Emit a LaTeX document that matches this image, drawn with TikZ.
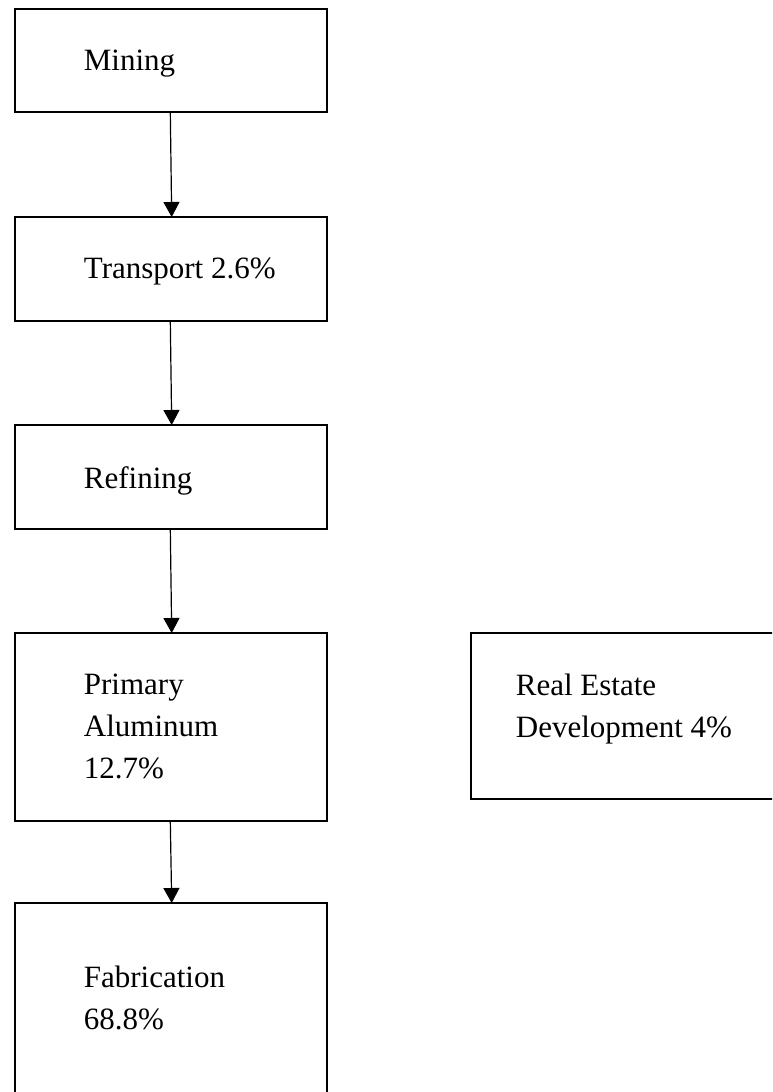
\documentclass[tikz,border=0pt]{standalone}
\usepackage{fontspec}
\setmainfont{Liberation Serif}
\usetikzlibrary{arrows.meta, positioning}

\begin{document}
\begin{tikzpicture}[
    x=1pt, y=-1pt,
    box/.style={rectangle, draw=black, line width=2pt, minimum width=312pt,
                outer sep=0pt, inner sep=0pt},
    txt/.style={anchor=north west, inner sep=0pt, align=left,
                font=\fontsize{31}{42}\selectfont},
    arrow/.style={-{Triangle[length=15pt, width=16pt]}, line width=1.2pt, black}
]
\useasboundingbox (0,0) rectangle (772,1092);
\clip (0,0) rectangle (772,1092);
% Boxes (main chain)
\node[box, minimum height=103pt] (mining) at (170.7,60.5) {};
\node[box, minimum height=104pt, below=105pt of mining] (transport) {};
\node[box, minimum height=104pt, below=104pt of transport] (refining) {};
\node[box, minimum height=188pt, below=104pt of refining] (primary) {};
\node[box, minimum height=220pt, below=82pt of primary] (fabrication) {};
% Side box
\node[box, minimum width=340pt, minimum height=166pt,
      right=144pt of primary.north east, anchor=north west] (realestate) {};
% Texts
\node[txt] (mining-t) at ([shift={(69pt,-41pt)}]mining.north west) {Mining};
\node[txt] (transport-t) at ([shift={(69pt,-41pt)}]transport.north west) {Transport 2.6\%};
\node[txt] (refining-t) at ([shift={(69pt,-41pt)}]refining.north west) {Refining};
\node[txt] (primary-t) at ([shift={(69pt,-41pt)}]primary.north west) {Primary\\Aluminum\\12.7\%};
\node[txt] (fabrication-t) at ([shift={(69pt,-63pt)}]fabrication.north west) {Fabrication\\68.8\%};
\node[txt] (realestate-t) at ([shift={(45pt,-41pt)}]realestate.north west) {Real Estate\\Development 4\%};
% Arrows
\draw[arrow] ([xshift=-0.4pt]mining.south) -- ([xshift=1pt]transport.north);
\draw[arrow] ([xshift=-0.4pt]transport.south) -- ([xshift=1pt]refining.north);
\draw[arrow] ([xshift=-0.4pt]refining.south) -- ([xshift=1pt]primary.north);
\draw[arrow] ([xshift=-0.4pt]primary.south) -- ([xshift=1pt]fabrication.north);
\end{tikzpicture}
\end{document}
